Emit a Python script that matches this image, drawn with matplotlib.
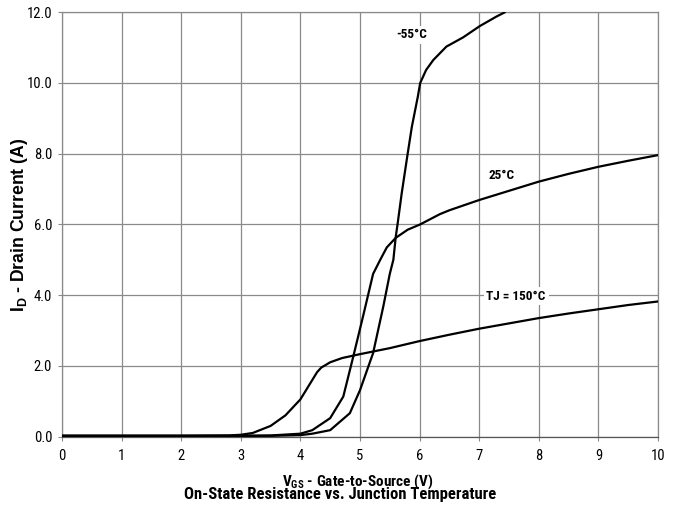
import matplotlib
matplotlib.use('Agg')
import matplotlib.pyplot as plt
import numpy as np

plt.rcParams['font.family'] = ['Liberation Sans Narrow', 'Roboto Condensed', 'Archivo Narrow', 'DejaVu Sans']

# V_GS (V) vs I_D (A)
vgs_150 = [0.0, 1.0, 2.0, 2.8, 3.0, 3.2, 3.5, 3.75, 4.0, 4.2, 4.28, 4.35, 4.5, 4.7, 5.0, 5.5, 6.0, 6.5, 7.0, 7.5, 8.0, 8.5, 9.0, 9.5, 10.0]
id_150 = [0.02, 0.02, 0.02, 0.03, 0.05, 0.1, 0.3, 0.6, 1.05, 1.6, 1.82, 1.95, 2.1, 2.22, 2.33, 2.5, 2.7, 2.88, 3.05, 3.2, 3.35, 3.48, 3.6, 3.72, 3.82]

vgs_25 = [0.0, 1.0, 2.0, 3.0, 3.5, 4.0, 4.2, 4.5, 4.72, 4.89, 5.05, 5.22, 5.34, 5.45, 5.6, 5.8, 6.01, 6.34, 6.5, 7.0, 7.5, 8.0, 8.5, 9.0, 9.5, 10.0]
id_25 = [0.02, 0.02, 0.02, 0.02, 0.03, 0.08, 0.18, 0.52, 1.13, 2.28, 3.39, 4.6, 5.0, 5.35, 5.62, 5.85, 6.0, 6.29, 6.4, 6.69, 6.95, 7.21, 7.43, 7.63, 7.8, 7.96]

vgs_m55 = [0.0, 1.0, 2.0, 3.0, 3.5, 4.0, 4.2, 4.5, 4.83, 5.0, 5.22, 5.39, 5.5, 5.56, 5.6, 5.63, 5.7, 5.8, 5.87, 5.97, 6.01, 6.11, 6.23, 6.45, 6.73, 7.01, 7.29, 7.43]
id_m55 = [0.02, 0.02, 0.02, 0.02, 0.02, 0.04, 0.08, 0.18, 0.66, 1.31, 2.36, 3.67, 4.6, 5.0, 5.65, 6.0, 6.88, 8.0, 8.76, 9.61, 10.0, 10.37, 10.65, 11.03, 11.29, 11.61, 11.88, 12.0]

labels = ['-55°C', '25°C', 'TJ = 150°C']
label_pos = [(5.87, 11.36), (7.38, 7.37), (7.62, 3.97)]

fig = plt.figure(figsize=(6.78, 5.08), dpi=100)
ax = fig.add_axes([0.0914, 0.1407, 0.8791, 0.8351])

for xs, ys in [(vgs_150, id_150), (vgs_25, id_25), (vgs_m55, id_m55)]:
    ax.plot(xs, ys, color='black', lw=1.6, solid_capstyle='round', solid_joinstyle='round', zorder=3)

for txt, (x, y) in zip(labels, label_pos):
    ax.text(x, y, txt, ha='center', va='center', fontsize=9.5, fontweight='bold',
            bbox=dict(facecolor='white', edgecolor='none', pad=2), zorder=2)

ax.set_xlim(0, 10)
ax.set_ylim(0, 12)
ax.set_xticks(np.arange(0, 11, 1))
ax.set_yticks(np.arange(0, 13, 2))
ax.set_yticklabels(['%.1f' % v for v in np.arange(0, 13, 2)])
ax.grid(True, color='#8a8a8a', lw=0.9)
ax.set_axisbelow(True)
for s in ax.spines.values():
    s.set_color('#8a8a8a')
    s.set_linewidth(0.9)
ax.spines['bottom'].set_color('#555555')
ax.tick_params(length=3, color='#8a8a8a', labelsize=10.5, pad=4)
ax.tick_params(axis='x', pad=6)

ax.set_ylabel('I$_\\mathregular{D}$ - Drain Current (A)', fontsize=12.7, fontweight='bold', va='center',
              family=['Liberation Sans', 'DejaVu Sans'])
ax.yaxis.set_label_coords(-0.072, 0.5)
ax.set_xlabel('V$_\\mathregular{GS}$ - Gate-to-Source (V)', fontsize=11, fontweight='bold', va='center')
ax.xaxis.set_label_coords(0.496, -0.107)
fig.text(0.501, 1 - 495 / 508, 'On-State Resistance vs. Junction Temperature', ha='center', va='center',
         fontsize=12, fontweight='bold')

fig.savefig('out.png', dpi=100)
